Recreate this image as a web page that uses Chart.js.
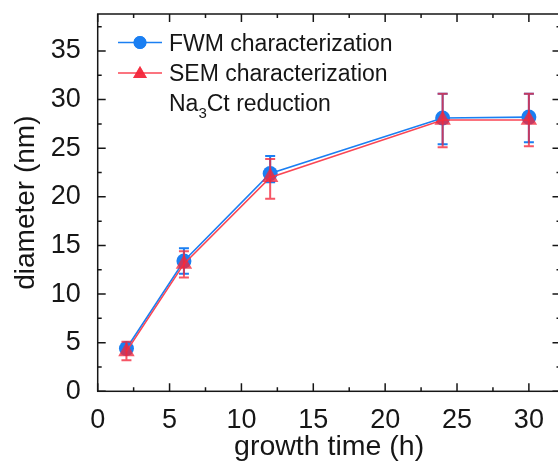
<!DOCTYPE html>
<html>
<head>
<meta charset="utf-8">
<title>diameter vs growth time</title>
<script src="https://cdn.jsdelivr.net/npm/chart.js@4.4.0/dist/chart.umd.min.js"></script>
<style>
    html, body { margin: 0; padding: 0; overflow: hidden; background: #fff; }
    #wrap { width: 570px; height: 464px; }
</style>
</head>
<body>
<div id="wrap"><canvas id="grafico" width="570" height="464"></canvas></div>
<script>
// growth time (h)
const tempo = [2, 6, 12, 24, 30];

// FWM characterization (nm) + error bar ends
const fwm = [4.4, 13.4, 22.4, 28.1, 28.2];
const fwmMin = [3.9, 12.1, 21.5, 25.4, 25.6];
const fwmMax = [4.9, 14.7, 24.2, 30.6, 30.6];

// SEM characterization (nm) + error bar ends
const sem = [4.1, 13.1, 22.0, 27.9, 27.9];
const semMin = [3.2, 11.7, 19.8, 25.1, 25.2];
const semMax = [5.1, 14.4, 23.9, 30.6, 30.6];

// eixos
const xTicks = [0, 5, 10, 15, 20, 25, 30];
const xMinor = [2.5, 7.5, 12.5, 17.5, 22.5, 27.5];
const yTicks = [0, 5, 10, 15, 20, 25, 30, 35];
const yMinor = [2.5, 7.5, 12.5, 17.5, 22.5, 27.5, 32.5, 37.5];

const FONTE = '"Liberation Sans", Arial, Helvetica, sans-serif';
const AZUL = '#1b7ff2';
const VERMELHO = 'rgba(244, 38, 58, 0.78)';
const PRETO = '#161616';

function pontos(ys) {
    return tempo.map((t, i) => ({ x: t, y: ys[i] }));
}

// moldura, ticks para dentro, barras de erro e legenda
const moldura = {
    id: 'moldura',
    beforeDatasetDraw(chart, args) {
        const ds = chart.data.datasets[args.index];
        const x = chart.scales.x, y = chart.scales.y;
        const ctx = chart.ctx;
        ctx.save();
        ctx.strokeStyle = ds.barColor;
        ctx.lineWidth = 2;
        ctx.beginPath();
        ds.errMin.forEach((lo, i) => {
            const px = x.getPixelForValue(tempo[i]);
            const y1 = y.getPixelForValue(lo);
            const y2 = y.getPixelForValue(ds.errMax[i]);
            ctx.moveTo(px, y1); ctx.lineTo(px, y2);
            ctx.moveTo(px - 5, y1); ctx.lineTo(px + 5, y1);
            ctx.moveTo(px - 5, y2); ctx.lineTo(px + 5, y2);
        });
        ctx.stroke();
        ctx.restore();
    },
    afterDraw(chart) {
        const ctx = chart.ctx;
        const a = chart.chartArea;
        const x = chart.scales.x, y = chart.scales.y;
        ctx.save();
        ctx.strokeStyle = PRETO;
        ctx.lineWidth = 1.5;
        ctx.strokeRect(a.left, a.top, a.right - a.left, a.bottom - a.top);

        ctx.beginPath();
        const tickX = (v, len) => {
            const px = x.getPixelForValue(v);
            ctx.moveTo(px, a.bottom); ctx.lineTo(px, a.bottom - len);
            ctx.moveTo(px, a.top); ctx.lineTo(px, a.top + len);
        };
        const tickY = (v, len) => {
            const py = y.getPixelForValue(v);
            ctx.moveTo(a.left, py); ctx.lineTo(a.left + len, py);
            ctx.moveTo(a.right, py); ctx.lineTo(a.right - len, py);
        };
        xTicks.forEach(v => tickX(v, 8));
        xMinor.forEach(v => tickX(v, 4));
        yTicks.forEach(v => tickY(v, 8));
        yMinor.forEach(v => tickY(v, 4));
        ctx.stroke();

        // legenda
        const sets = chart.data.datasets;
        const linhas = [42.5, 73];
        sets.forEach((ds, i) => {
            const ly = linhas[i];
            ctx.strokeStyle = ds.borderColor;
            ctx.lineWidth = 1.5;
            ctx.beginPath();
            ctx.moveTo(118, ly); ctx.lineTo(162, ly);
            ctx.stroke();
            ctx.fillStyle = ds.pointBackgroundColor;
            Chart.helpers.drawPoint(ctx, {
                pointStyle: ds.pointStyle,
                radius: ds.pointStyle === 'circle' ? 6.5 : 8,
                rotation: 0,
                borderWidth: 0
            }, 140, ly + (ds.pointStyle === 'triangle' ? 1 : 0));
            ctx.fill();
        });
        ctx.fillStyle = PRETO;
        ctx.textBaseline = 'alphabetic';
        ctx.textAlign = 'left';
        ctx.font = '23px ' + FONTE;
        ctx.fillText(sets[0].label, 169, 50.5);
        ctx.fillText(sets[1].label, 169, 80.5);
        // Na3Ct com subscrito
        let tx = 169;
        ctx.fillText('Na', tx, 111);
        tx += ctx.measureText('Na').width;
        ctx.font = '15px ' + FONTE;
        ctx.fillText('3', tx, 118);
        tx += ctx.measureText('3').width;
        ctx.font = '23px ' + FONTE;
        ctx.fillText('Ct reduction', tx, 111);
        ctx.restore();
    }
};

const ctx = document.getElementById('grafico').getContext('2d');
new Chart(ctx, {
    type: 'line',
    data: {
        datasets: [{
            label: 'FWM characterization',
            data: pontos(fwm),
            errMin: fwmMin,
            errMax: fwmMax,
            barColor: AZUL,
            borderColor: AZUL,
            backgroundColor: AZUL,
            pointBackgroundColor: AZUL,
            borderWidth: 1.6,
            pointStyle: 'circle',
            pointRadius: 7.5,
            pointBorderWidth: 0,
            order: 1
        }, {
            label: 'SEM characterization',
            data: pontos(sem),
            errMin: semMin,
            errMax: semMax,
            barColor: VERMELHO,
            borderColor: 'rgba(250, 60, 75, 0.95)',
            backgroundColor: VERMELHO,
            pointBackgroundColor: VERMELHO,
            borderWidth: 1.6,
            pointStyle: 'triangle',
            pointRadius: 9.5,
            pointBorderWidth: 0,
            order: 0
        }]
    },
    options: {
        responsive: false,
        animation: false,
        layout: { padding: { top: 14, right: 9, left: 0, bottom: 0 } },
        plugins: {
            legend: { display: false },
            tooltip: { enabled: false }
        },
        scales: {
            x: {
                type: 'linear',
                min: 0,
                max: 32.2,
                grid: { display: false },
                border: { display: false },
                afterBuildTicks: s => { s.ticks = xTicks.map(v => ({ value: v })); },
                afterFit: s => { s.height = 72.7; s.paddingLeft = 0; s.paddingRight = 0; },
                ticks: { font: { family: FONTE, size: 27 }, color: PRETO, padding: 5, maxRotation: 0 },
                title: {
                    display: true,
                    text: 'growth time (h)',
                    font: { family: FONTE, size: 28.5 },
                    color: PRETO,
                    padding: { top: 0, bottom: 0 }
                }
            },
            y: {
                min: 0,
                max: 38.8,
                grid: { display: false },
                border: { display: false },
                afterBuildTicks: s => { s.ticks = yTicks.map(v => ({ value: v })); },
                afterFit: s => { s.width = 97.7; s.paddingTop = 0; s.paddingBottom = 0; },
                ticks: { font: { family: FONTE, size: 27 }, color: PRETO, padding: 9 },
                title: {
                    display: true,
                    text: 'diameter (nm)',
                    font: { family: FONTE, size: 28 },
                    color: PRETO,
                    padding: { top: 9.5, bottom: 0 }
                }
            }
        }
    },
    plugins: [moldura]
});
</script>
</body>
</html>
